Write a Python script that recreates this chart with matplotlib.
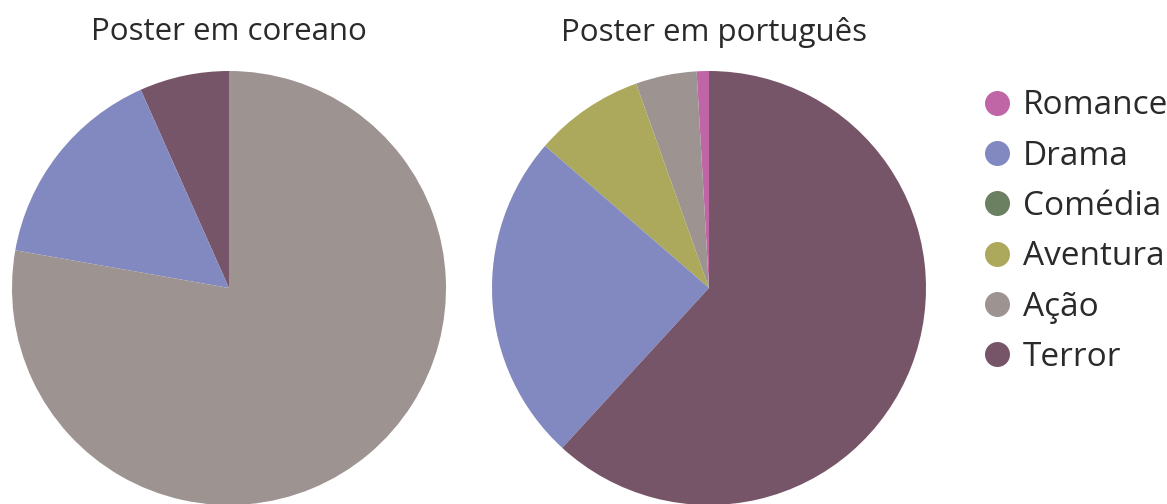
import matplotlib.pyplot as plt
from matplotlib.lines import Line2D

# genre colours, shared by both pies and the legend
genres = ["Romance", "Drama", "Comédia", "Aventura", "Ação", "Terror"]
colors = {
    "Romance": "#c066a6",
    "Drama": "#8189c0",
    "Comédia": "#6b8060",
    "Aventura": "#aca95c",
    "Ação": "#9d9391",
    "Terror": "#775569",
}

# poster counts per genre, in counter-clockwise order from the top
kr_labels = ["Terror", "Drama", "Ação"]
kr_values = [3, 7, 35]

pt_labels = ["Romance", "Ação", "Aventura", "Drama", "Terror"]
pt_values = [1, 5, 9, 27, 68]

plt.rcParams["font.family"] = ["Open Sans", "DejaVu Sans"]

W, H = 1167, 504
fig = plt.figure(figsize=(W / 100, H / 100), dpi=100)

def draw_pie(cx, cy, r, labels, values, title, title_x):
    ax = fig.add_axes([(cx - r) / W, (H - cy - r) / H, 2 * r / W, 2 * r / H])
    ax.pie(values, colors=[colors[l] for l in labels], startangle=90,
           counterclock=True, radius=1)
    ax.set_xlim(-1, 1)
    ax.set_ylim(-1, 1)
    ax.set_aspect("equal")
    ax.axis("off")
    fig.text(title_x / W, 1 - 32 / H, title, ha="center", va="center",
             fontsize=22.5, color="#2a2a2a")

draw_pie(229, 288, 217, kr_labels, kr_values, "Poster em coreano", 229)
draw_pie(709, 288, 217, pt_labels, pt_values, "Poster em português", 714)

handles = [Line2D([0], [0], marker="o", linestyle="none", markersize=18,
                  markerfacecolor=colors[g], markeredgecolor="none")
           for g in genres]
fig.legend(handles, genres, loc="upper left",
           bbox_to_anchor=(967 / W, 1 - 76 / H), frameon=False,
           fontsize=24, handletextpad=0.28, labelspacing=0.52,
           handlelength=1.0, borderaxespad=0, labelcolor="#2a2a2a")

plt.savefig("out.png", dpi=100)
